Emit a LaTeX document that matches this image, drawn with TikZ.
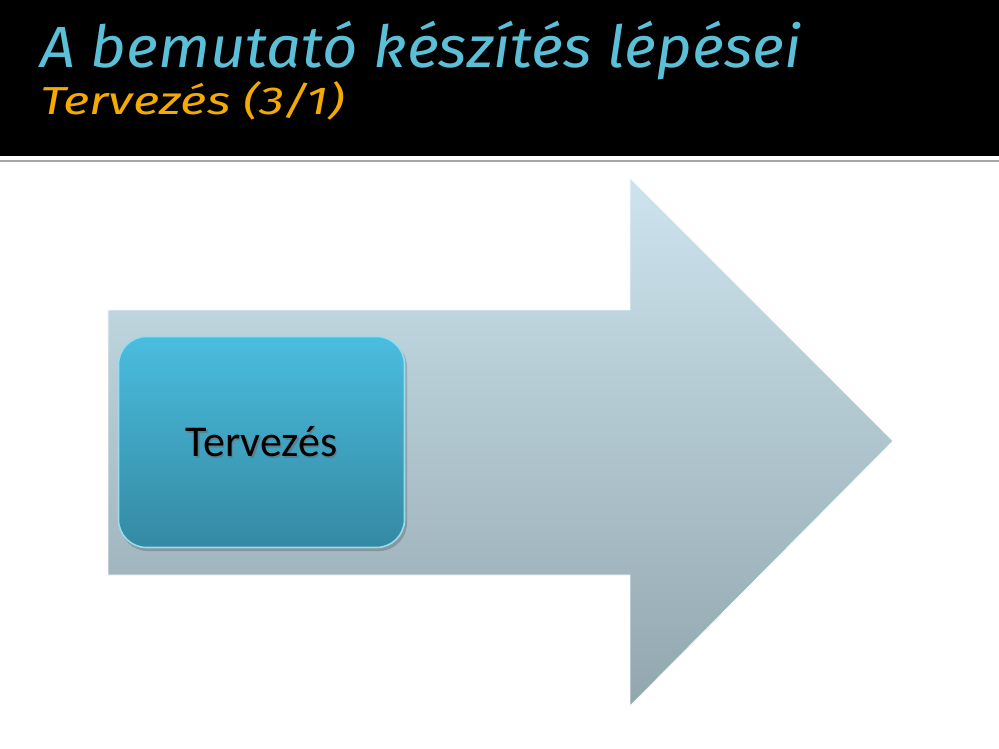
\documentclass[tikz,border=0pt]{standalone}
\usepackage{fontspec}
\setmainfont{Carlito}
\newfontfamily\titlefont{Fira Sans}
\usetikzlibrary{shadows}
\definecolor{titleblue}{HTML}{5BBFD8}
\definecolor{suborange}{HTML}{F5AA00}
\definecolor{arrowtop}{HTML}{CDE4EE}
\definecolor{arrowbot}{HTML}{92A6AE}
\definecolor{boxtop}{HTML}{4ABDDF}
\definecolor{boxbot}{HTML}{3489A2}
\definecolor{boxedge}{HTML}{9ADAEC}
\tikzset{
  stepbox/.style={draw=boxedge, line width=1.6pt, rounded corners=28pt,
    top color=boxtop, bottom color=boxbot, minimum width=286pt, minimum height=211pt,
    inner sep=0pt},
  bigarrow/.style={top color=arrowtop, bottom color=arrowbot, draw=white!80!arrowtop, line width=0.8pt},
  titletext/.style={font=\titlefont\itshape\fontsize{58}{62}\selectfont, text=titleblue, inner sep=0pt, anchor=base west, xscale=1.06},
  subtext/.style={font=\titlefont\itshape\fontsize{39}{42}\selectfont, text=suborange, inner sep=0pt, anchor=base west, xscale=1.3},
  boxtext/.style={font=\fontsize{44}{48}\selectfont, text=black, inner sep=0pt}
}
\begin{document}
\begin{tikzpicture}[x=1pt,y=-1pt]
\useasboundingbox (0,0) rectangle (999,749);
\fill[white] (0,0) rectangle (999,749);
% header
\fill[black] (0,0) rectangle (999,156);
\draw[black!35, line width=2.5pt] (0,161) -- (999,161);
\node[titletext] (title) at (40,68) {A bemutató készítés lépései};
\node[subtext] (subtitle) at (40,115) {Tervezés (3/1)};
% big arrow
\shade[bigarrow] (108,310) -- (630,310) -- (630,178) -- (893,441) -- (630,706) -- (630,575) -- (108,575) -- cycle;
% shadow of the box
\fill[black, opacity=0.18, rounded corners=28pt] (120,339) rectangle (407,551);
% step box
\node[stepbox] (tervezes) at (261.5,442) {};
\node[boxtext, text=black!60, opacity=0.5] (tshadow) at ([shift={(1.5pt,-1.5pt)}]tervezes.center) {Tervezés};
\node[boxtext] (tlabel) at (tervezes.center) {Tervezés};
\end{tikzpicture}
\end{document}
